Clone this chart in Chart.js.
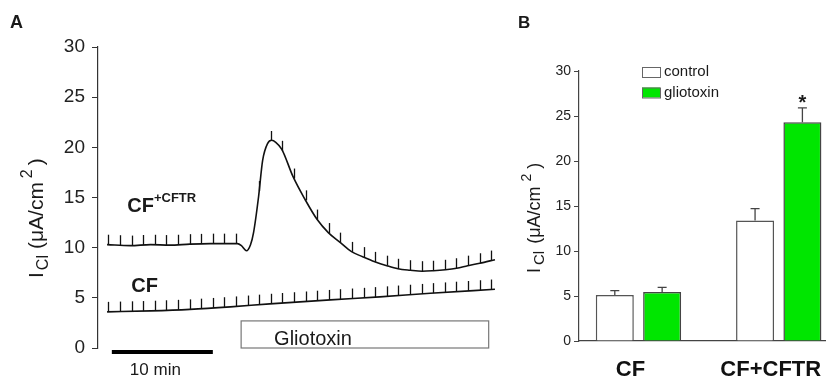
<!DOCTYPE html>
<html>
<head>
<meta charset="utf-8">
<script src="https://cdn.jsdelivr.net/npm/chart.js@4.4.1/dist/chart.umd.min.js"></script>
<style>
  body { margin: 0; background: #fff; }
  #wrap { position: relative; width: 826px; height: 382px; overflow: hidden; }
  #chartA { position: absolute; left: 0; top: 0; }
  #chartB { position: absolute; left: 505px; top: 0; }
</style>
</head>
<body>
<div id="wrap">
  <canvas id="chartA" width="510" height="382"></canvas>
  <canvas id="chartB" width="321" height="382"></canvas>
</div>
<script>
// ---- panel A: current traces (time in min, I_Cl in uA/cm2)
var cftrTime = [-0.3, 2.0, 4.0, 5.9, 7.9, 9.9, 11.9, 12.6, 13.0, 13.5, 13.9, 14.2, 14.7, 15.1, 15.6, 16.0, 16.4, 17.0, 18.1, 19.3, 20.5, 21.6, 22.8, 23.9, 25.0, 26.2, 27.4, 28.5, 29.7, 30.9, 32.0, 33.2, 34.3, 35.4, 36.6, 38.1];
var cftrCurrent = [10.3, 10.2, 10.3, 10.25, 10.35, 10.4, 10.4, 10.4, 10.2, 9.7, 10.3, 11.5, 15.1, 18.7, 20.4, 20.7, 20.5, 19.8, 17.1, 14.8, 12.8, 11.5, 10.5, 9.6, 9.1, 8.6, 8.2, 7.9, 7.75, 7.65, 7.7, 7.8, 7.95, 8.2, 8.45, 8.8];
var cfTime = [-0.3, 4.0, 7.9, 11.9, 15.8, 21.8, 26.7, 31.7, 38.1];
var cfCurrent = [3.6, 3.7, 3.85, 4.1, 4.4, 4.8, 5.1, 5.45, 5.85];
// pulse marks on the traces (min)
var cfPulses = [-0.17, 0.98, 2.13, 3.28, 4.42, 5.57, 6.72, 7.87, 9.02, 10.17, 11.32, 12.46, 13.61, 14.76, 15.91, 17.06, 18.21, 19.35, 20.50, 21.65, 22.80, 23.95, 25.10, 26.25, 27.39, 28.54, 29.69, 30.84, 31.99, 33.14, 34.29, 35.43, 36.58, 37.73];
var cftrPulses = [-0.17, 0.98, 2.13, 3.28, 4.42, 5.57, 6.72, 7.87, 9.02, 10.17, 11.32, 12.46, 14.76, 15.91, 17.06, 18.21, 19.35, 20.50, 21.65, 22.80, 23.95, 25.10, 26.25, 27.39, 28.54, 29.69, 30.84, 31.99, 33.14, 34.29, 35.43, 36.58, 37.73];
var gliotoxinPeriod = [12.97, 37.48];
var scaleBarMin = [0.17, 10.17];

// ---- panel B: mean +/- SEM
var groups = ['CF', 'CF+CFTR'];
var controlMean = [5.1, 13.4];
var controlSem = [0.5, 1.3];
var glioMean = [5.45, 24.3];
var glioSem = [0.5, 1.6];

Chart.defaults.font.family = "'Liberation Sans', Arial, sans-serif";
Chart.defaults.color = '#1a1a1a';

function valueAt(ts, vs, t) {
  for (var i = 1; i < ts.length; i++) {
    if (t <= ts[i]) {
      var f = (t - ts[i - 1]) / (ts[i] - ts[i - 1]);
      return vs[i - 1] + f * (vs[i] - vs[i - 1]);
    }
  }
  return vs[vs.length - 1];
}

function xy(ts, vs) {
  return ts.map(function(t, i) { return {x: t, y: vs[i]}; });
}

// rotated label with sub/superscript
function drawRich(ctx, parts, x, y) {
  ctx.save();
  ctx.translate(x, y);
  ctx.rotate(-Math.PI / 2);
  ctx.textBaseline = 'alphabetic';
  ctx.textAlign = 'left';
  var cx = 0;
  parts.forEach(function(p) {
    ctx.font = p.size + "px 'Liberation Sans', Arial, sans-serif";
    ctx.fillText(p.t, cx, p.dy || 0);
    cx += ctx.measureText(p.t).width + (p.gap || 0);
  });
  ctx.restore();
}

var panelA = {
  id: 'panelA',
  afterDatasetsDraw: function(chart) {
    var ctx = chart.ctx, x = chart.scales.x, y = chart.scales.y;
    ctx.save();
    // pulse marks
    ctx.strokeStyle = '#111';
    ctx.lineWidth = 1.3;
    [[cftrTime, cftrCurrent, cftrPulses], [cfTime, cfCurrent, cfPulses]].forEach(function(tr) {
      tr[2].forEach(function(t) {
        var px = Math.round(x.getPixelForValue(t)) + 0.5;
        var py = y.getPixelForValue(valueAt(tr[0], tr[1], t));
        ctx.beginPath();
        ctx.moveTo(px, py);
        ctx.lineTo(px, py - 10);
        ctx.stroke();
      });
    });
    // gliotoxin bar
    var bx0 = x.getPixelForValue(gliotoxinPeriod[0]);
    var bx1 = x.getPixelForValue(gliotoxinPeriod[1]);
    var by0 = y.getPixelForValue(0);
    var by1 = y.getPixelForValue(2.7);
    ctx.fillStyle = '#fff';
    ctx.strokeStyle = '#777';
    ctx.lineWidth = 1.2;
    ctx.fillRect(bx0, by1, bx1 - bx0, by0 - by1);
    ctx.strokeRect(bx0, by1, bx1 - bx0, by0 - by1);
    ctx.fillStyle = '#1a1a1a';
    ctx.font = "20px 'Liberation Sans', Arial, sans-serif";
    ctx.textBaseline = 'alphabetic';
    ctx.fillText('Gliotoxin', bx0 + 33, by0 - 3);
    // 10 min scale bar
    var sx0 = x.getPixelForValue(scaleBarMin[0]);
    var sx1 = x.getPixelForValue(scaleBarMin[1]);
    ctx.strokeStyle = '#000';
    ctx.lineWidth = 4;
    ctx.beginPath();
    ctx.moveTo(sx0, by0 + 4);
    ctx.lineTo(sx1, by0 + 4);
    ctx.stroke();
    ctx.font = "17px 'Liberation Sans', Arial, sans-serif";
    ctx.fillText('10 min', sx0 + 18, by0 + 27);
    // trace labels
    ctx.font = "bold 20px 'Liberation Sans', Arial, sans-serif";
    var lx = x.getPixelForValue(1.7), ly = y.getPixelForValue(13.56);
    ctx.fillText('CF', lx, ly);
    var w = ctx.measureText('CF').width;
    ctx.font = "bold 13px 'Liberation Sans', Arial, sans-serif";
    ctx.fillText('+CFTR', lx + w, ly - 10);
    ctx.font = "bold 20px 'Liberation Sans', Arial, sans-serif";
    ctx.fillText('CF', x.getPixelForValue(2.1), y.getPixelForValue(5.58));
    // panel letter
    ctx.font = "bold 18px 'Liberation Sans', Arial, sans-serif";
    ctx.fillText('A', 10, 28);
    drawRich(ctx, [
      {t: 'I', size: 21, gap: 2},
      {t: 'Cl', size: 16, dy: 5, gap: 6},
      {t: '(\u03bcA/cm', size: 21, gap: 4},
      {t: '2', size: 16, dy: -11, gap: 4},
      {t: ')', size: 21}
    ], 43, 278);
    ctx.restore();
  }
};

new Chart(document.getElementById('chartA'), {
  type: 'line',
  data: {
    datasets: [
      {label: 'CF+CFTR', data: xy(cftrTime, cftrCurrent), borderColor: '#111', borderWidth: 1.6,
       pointRadius: 0, cubicInterpolationMode: 'monotone'},
      {label: 'CF', data: xy(cfTime, cfCurrent), borderColor: '#111', borderWidth: 1.6,
       pointRadius: 0, cubicInterpolationMode: 'monotone'}
    ]
  },
  options: {
    responsive: false,
    animation: false,
    layout: {autoPadding: false, padding: {left: 0, top: 47, right: 10, bottom: 34}},
    plugins: {legend: {display: false}, tooltip: {enabled: false}},
    scales: {
      x: {type: 'linear', min: -1.2, max: 38.6, display: false},
      y: {
        min: 0, max: 30,
        afterFit: function(s) { s.width = 98; },
        ticks: {stepSize: 5, padding: 7, font: {size: 19}, color: '#222'},
        grid: {drawOnChartArea: false, tickLength: 6, tickColor: '#333'},
        border: {color: '#333', width: 1.2}
      }
    }
  },
  plugins: [panelA]
});

var panelB = {
  id: 'panelB',
  afterDatasetsDraw: function(chart) {
    var ctx = chart.ctx, x = chart.scales.x, y = chart.scales.y, area = chart.chartArea;
    ctx.save();
    // error bars
    ctx.strokeStyle = '#444';
    ctx.lineWidth = 1.3;
    [[0, controlMean, controlSem], [1, glioMean, glioSem]].forEach(function(d) {
      chart.getDatasetMeta(d[0]).data.forEach(function(bar, i) {
        var top = y.getPixelForValue(d[1][i]);
        var tip = y.getPixelForValue(d[1][i] + d[2][i]);
        ctx.beginPath();
        ctx.moveTo(bar.x, top);
        ctx.lineTo(bar.x, tip);
        ctx.moveTo(bar.x - 4.5, tip);
        ctx.lineTo(bar.x + 4.5, tip);
        ctx.stroke();
      });
    });
    // significance mark
    var sig = chart.getDatasetMeta(1).data[1];
    ctx.fillStyle = '#1a1a1a';
    ctx.textAlign = 'center';
    ctx.font = "bold 20px 'Liberation Sans', Arial, sans-serif";
    ctx.fillText('*', sig.x, y.getPixelForValue(glioMean[1] + glioSem[1]) + 1);
    // group labels under the axis
    ctx.fillStyle = '#111';
    ctx.font = "bold 22px 'Liberation Sans', Arial, sans-serif";
    groups.forEach(function(g, i) {
      ctx.fillText(g, x.getPixelForValue(i + 1) - 8, area.bottom + 35);
    });
    // legend
    ctx.fillStyle = '#1a1a1a';
    ctx.textAlign = 'left';
    ctx.textBaseline = 'middle';
    ctx.font = "15px 'Liberation Sans', Arial, sans-serif";
    chart.data.datasets.forEach(function(ds, i) {
      var lx = area.left + 63, ly = area.top - 4 + i * 20.5;
      ctx.fillStyle = ds.backgroundColor;
      ctx.fillRect(lx, ly, 18, 10);
      ctx.strokeStyle = '#666';
      ctx.lineWidth = 1;
      ctx.strokeRect(lx + 0.5, ly + 0.5, 18, 10);
      ctx.fillStyle = '#1a1a1a';
      ctx.fillText(ds.label, lx + 22, ly + 5);
    });
    ctx.textBaseline = 'alphabetic';
    ctx.font = "bold 17px 'Liberation Sans', Arial, sans-serif";
    ctx.fillText('B', 13, 28);
    drawRich(ctx, [
      {t: 'I', size: 18, gap: 3},
      {t: 'Cl', size: 15, dy: 4, gap: 7},
      {t: '(\u03bcA/cm', size: 18, gap: 5},
      {t: '2', size: 14, dy: -9, gap: 5},
      {t: ')', size: 18}
    ], 35, 273);
    ctx.restore();
  }
};

new Chart(document.getElementById('chartB'), {
  type: 'bar',
  data: {
    datasets: [
      {label: 'control', data: xy([1, 2], controlMean), backgroundColor: '#ffffff',
       borderColor: '#555', borderWidth: 1.5},
      {label: 'gliotoxin', data: xy([1, 2], glioMean), backgroundColor: '#00e600',
       borderColor: '#444', borderWidth: 1.5}
    ]
  },
  options: {
    responsive: false,
    animation: false,
    categoryPercentage: 0.675,
    barPercentage: 0.803,
    layout: {autoPadding: false, padding: {left: 0, top: 71, right: 0, bottom: 0}},
    plugins: {legend: {display: false}, tooltip: {enabled: false}},
    scales: {
      x: {
        type: 'linear', min: 0.576, max: 2.337, offset: false, bounds: 'data',
        afterBuildTicks: function(s) { s.ticks = groups.map(function(g, i) { return {value: i + 1}; }); },
        afterFit: function(s) { s.height = 41; s.paddingLeft = 0; s.paddingRight = 0; },
        ticks: {display: false},
        grid: {display: false, offset: false},
        border: {display: true, color: '#444', width: 1.3}
      },
      y: {
        min: 0, max: 30,
        afterFit: function(s) { s.width = 74; },
        ticks: {stepSize: 5, padding: 3, font: {size: 14}, color: '#222'},
        grid: {drawOnChartArea: false, tickLength: 5, tickColor: '#444'},
        border: {color: '#444', width: 1.2}
      }
    }
  },
  plugins: [panelB]
});
</script>
</body>
</html>
